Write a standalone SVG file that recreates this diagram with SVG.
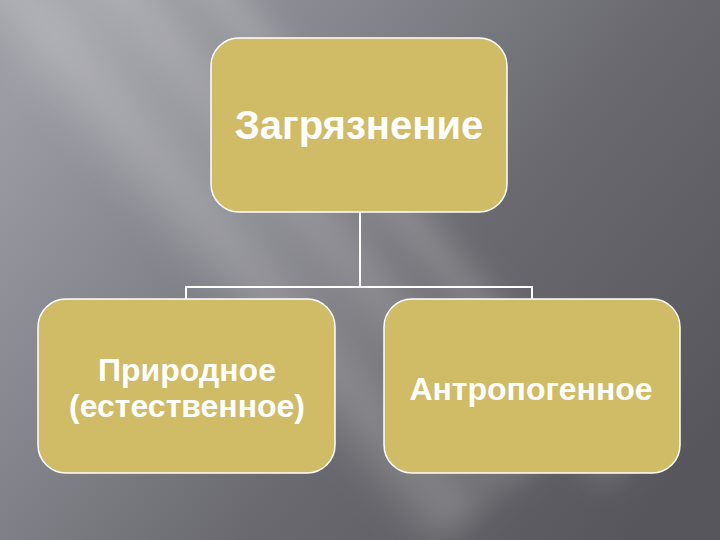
<svg xmlns="http://www.w3.org/2000/svg" width="720" height="540" viewBox="0 0 720 540">
<defs>
<linearGradient id="bg" x1="0" y1="0.2" x2="1" y2="0.8">
<stop offset="0" stop-color="#9c9ca4"/>
<stop offset="0.3" stop-color="#84848c"/>
<stop offset="0.6" stop-color="#69696f"/>
<stop offset="1" stop-color="#57565c"/>
</linearGradient>
<linearGradient id="band" x1="0" y1="0" x2="1" y2="0">
<stop offset="0" stop-color="#ffffff" stop-opacity="0"/>
<stop offset="0.5" stop-color="#ffffff" stop-opacity="0.22"/>
<stop offset="1" stop-color="#ffffff" stop-opacity="0"/>
</linearGradient>
<filter id="blur" x="-50%" y="-50%" width="200%" height="200%"><feGaussianBlur stdDeviation="14"/></filter>
<style>
.box{fill:#d0bb66;stroke:#ffffff;stroke-width:1.5}
.lbl{font-family:"Liberation Sans",Arial,sans-serif;font-weight:bold;fill:#ffffff;text-anchor:middle}
.conn{fill:none;stroke:#ffffff;stroke-width:2}
</style>
</defs>
<rect width="720" height="540" fill="url(#bg)"/>
<g filter="url(#blur)">
<rect x="-60" y="-300" width="100" height="1000" fill="url(#band)" transform="rotate(-40 0 0) translate(110 0)"/>
<rect x="-60" y="-300" width="60" height="1000" fill="url(#band)" transform="rotate(-40 0 0) translate(200 60)"/>
<rect x="-60" y="-300" width="120" height="1000" fill="url(#band)" transform="rotate(-40 0 0) translate(20 0)"/>
</g>
<g id="connectors">
<path class="conn" d="M360 212 V287 M186 299 V287 H532 V299"/>
</g>
<g id="node-top">
<rect class="box" x="211" y="38" width="296" height="174" rx="28"/>
<text class="lbl" x="359" y="139" font-size="40">Загрязнение</text>
</g>
<g id="node-left">
<rect class="box" x="38" y="299" width="297" height="174" rx="28"/>
<text class="lbl" x="187" y="381" font-size="32">Природное</text>
<text class="lbl" x="187" y="417" font-size="32">(естественное)</text>
</g>
<g id="node-right">
<rect class="box" x="384" y="299" width="296" height="174" rx="28"/>
<text class="lbl" x="531" y="400" font-size="32">Антропогенное</text>
</g>
</svg>
